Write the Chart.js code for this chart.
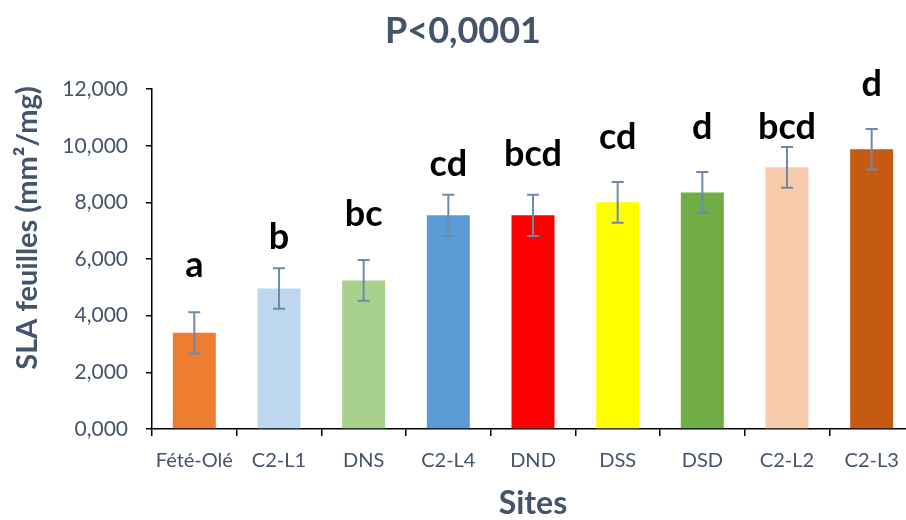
<!DOCTYPE html>
<html>
<head>
<meta charset="utf-8">
<script src="https://cdn.jsdelivr.net/npm/chart.js@4.4.1/dist/chart.umd.min.js"></script>
<style>
  html, body { margin: 0; padding: 0; overflow: hidden; background: #ffffff; }
  #wrap { width: 926px; height: 520px; }
</style>
</head>
<body>
<div id="wrap"><canvas id="c" width="926" height="520"></canvas></div>
<script>
// Sites and mean SLA of leaves (mm²/mg) with their error bars
const sites = ['Fété-Olé', 'C2-L1', 'DNS', 'C2-L4', 'DND', 'DSS', 'DSD', 'C2-L2', 'C2-L3'];
const slaMeans = [3.395, 4.960, 5.245, 7.545, 7.545, 8.005, 8.355, 9.240, 9.880];
const slaErrors = [0.725, 0.715, 0.720, 0.725, 0.725, 0.720, 0.725, 0.720, 0.715];
// Letters of the multiple-comparison groups
const groupLetters = ['a', 'b', 'bc', 'cd', 'bcd', 'cd', 'd', 'bcd', 'd'];
// Y axis ticks and their labels
const yTickValues = [0, 2, 4, 6, 8, 10, 12];
const yTickLabels = ['0,000', '2,000', '4,000', '6,000', '8,000', '10,000', '12,000'];

// Styling
const barColors = ['#ED7D31', '#BDD7EE', '#A9D18E', '#5B9BD5', '#FF0000', '#FFFF00', '#70AD47', '#F8CBAD', '#C55A11'];
const letterLift = [35, 19, 34, 19, 29, 33, 33, 8, 33]; // px between error cap and letter baseline
const textColor = '#44546A';
const errColor = '#7089AB';
const FONT = 'Lato';

const errorBarPlugin = {
  id: 'errorBars',
  afterDatasetsDraw(chart) {
    const meta = chart.getDatasetMeta(0);
    const y = chart.scales.y;
    const ctx = chart.ctx;
    ctx.save();
    ctx.strokeStyle = errColor;
    ctx.lineWidth = 2;
    meta.data.forEach((bar, i) => {
      const top = y.getPixelForValue(slaMeans[i] + slaErrors[i]);
      const bot = y.getPixelForValue(slaMeans[i] - slaErrors[i]);
      const x = bar.x;
      const cap = 6;
      ctx.beginPath();
      ctx.moveTo(x, top); ctx.lineTo(x, bot);
      ctx.moveTo(x - cap, top); ctx.lineTo(x + cap, top);
      ctx.moveTo(x - cap, bot); ctx.lineTo(x + cap, bot);
      ctx.stroke();
    });
    // group letters above each error bar
    ctx.fillStyle = '#000000';
    ctx.font = 'bold 36px ' + FONT;
    ctx.textAlign = 'center';
    ctx.textBaseline = 'alphabetic';
    meta.data.forEach((bar, i) => {
      const top = y.getPixelForValue(slaMeans[i] + slaErrors[i]);
      ctx.fillText(groupLetters[i], bar.x, top - letterLift[i]);
    });
    ctx.restore();
  }
};

const yTitlePlugin = {
  id: 'yTitle',
  afterDraw(chart) {
    const ctx = chart.ctx;
    ctx.save();
    ctx.translate(28, 228);
    ctx.rotate(-Math.PI / 2);
    ctx.fillStyle = textColor;
    ctx.font = 'bold 29px ' + FONT;
    ctx.textAlign = 'center';
    ctx.textBaseline = 'middle';
    ctx.fillText('SLA feuilles (mm²/mg)', 0, 0);
    ctx.restore();
  }
};

new Chart(document.getElementById('c'), {
  type: 'bar',
  data: {
    labels: sites,
    datasets: [{
      data: slaMeans,
      backgroundColor: barColors,
      borderWidth: 0,
      categoryPercentage: 1,
      barPercentage: 0.508
    }]
  },
  options: {
    responsive: false,
    animation: false,
    layout: { padding: { left: 12, right: 12, top: 0, bottom: 0 } },
    plugins: {
      legend: { display: false },
      tooltip: { enabled: false },
      title: {
        display: true,
        text: 'P<0,0001',
        color: textColor,
        font: { family: FONT, size: 36, weight: 'bold', lineHeight: 1.2 },
        padding: { top: 10, bottom: 36 }
      }
    },
    scales: {
      x: {
        grid: { display: true, drawOnChartArea: false, drawTicks: true, tickLength: 7, color: '#000000', lineWidth: 1.5, offset: true },
        border: { display: true, color: '#000000', width: 1.5 },
        ticks: { color: textColor, font: { family: FONT, size: 20 }, padding: 13, maxRotation: 0, autoSkip: false },
        title: { display: true, text: 'Sites', color: textColor, font: { family: FONT, size: 32, weight: 'bold', lineHeight: 1.0 }, padding: { top: 0, bottom: 0 } },
        afterFit(scale) { scale.height = 91; }
      },
      y: {
        min: 0,
        max: 12,
        afterBuildTicks(scale) { scale.ticks = yTickValues.map(v => ({ value: v })); },
        ticks: {
          color: textColor,
          font: { family: FONT, size: 21 },
          padding: 18,
          callback: (v) => yTickLabels[yTickValues.indexOf(v)]
        },
        grid: { display: true, drawOnChartArea: false, drawTicks: true, tickLength: 6, color: '#000000', lineWidth: 1.5 },
        border: { display: true, color: '#000000', width: 1.5 },
        afterFit(scale) { scale.width = 140; }
      }
    }
  },
  plugins: [errorBarPlugin, yTitlePlugin]
});
</script>
</body>
</html>
